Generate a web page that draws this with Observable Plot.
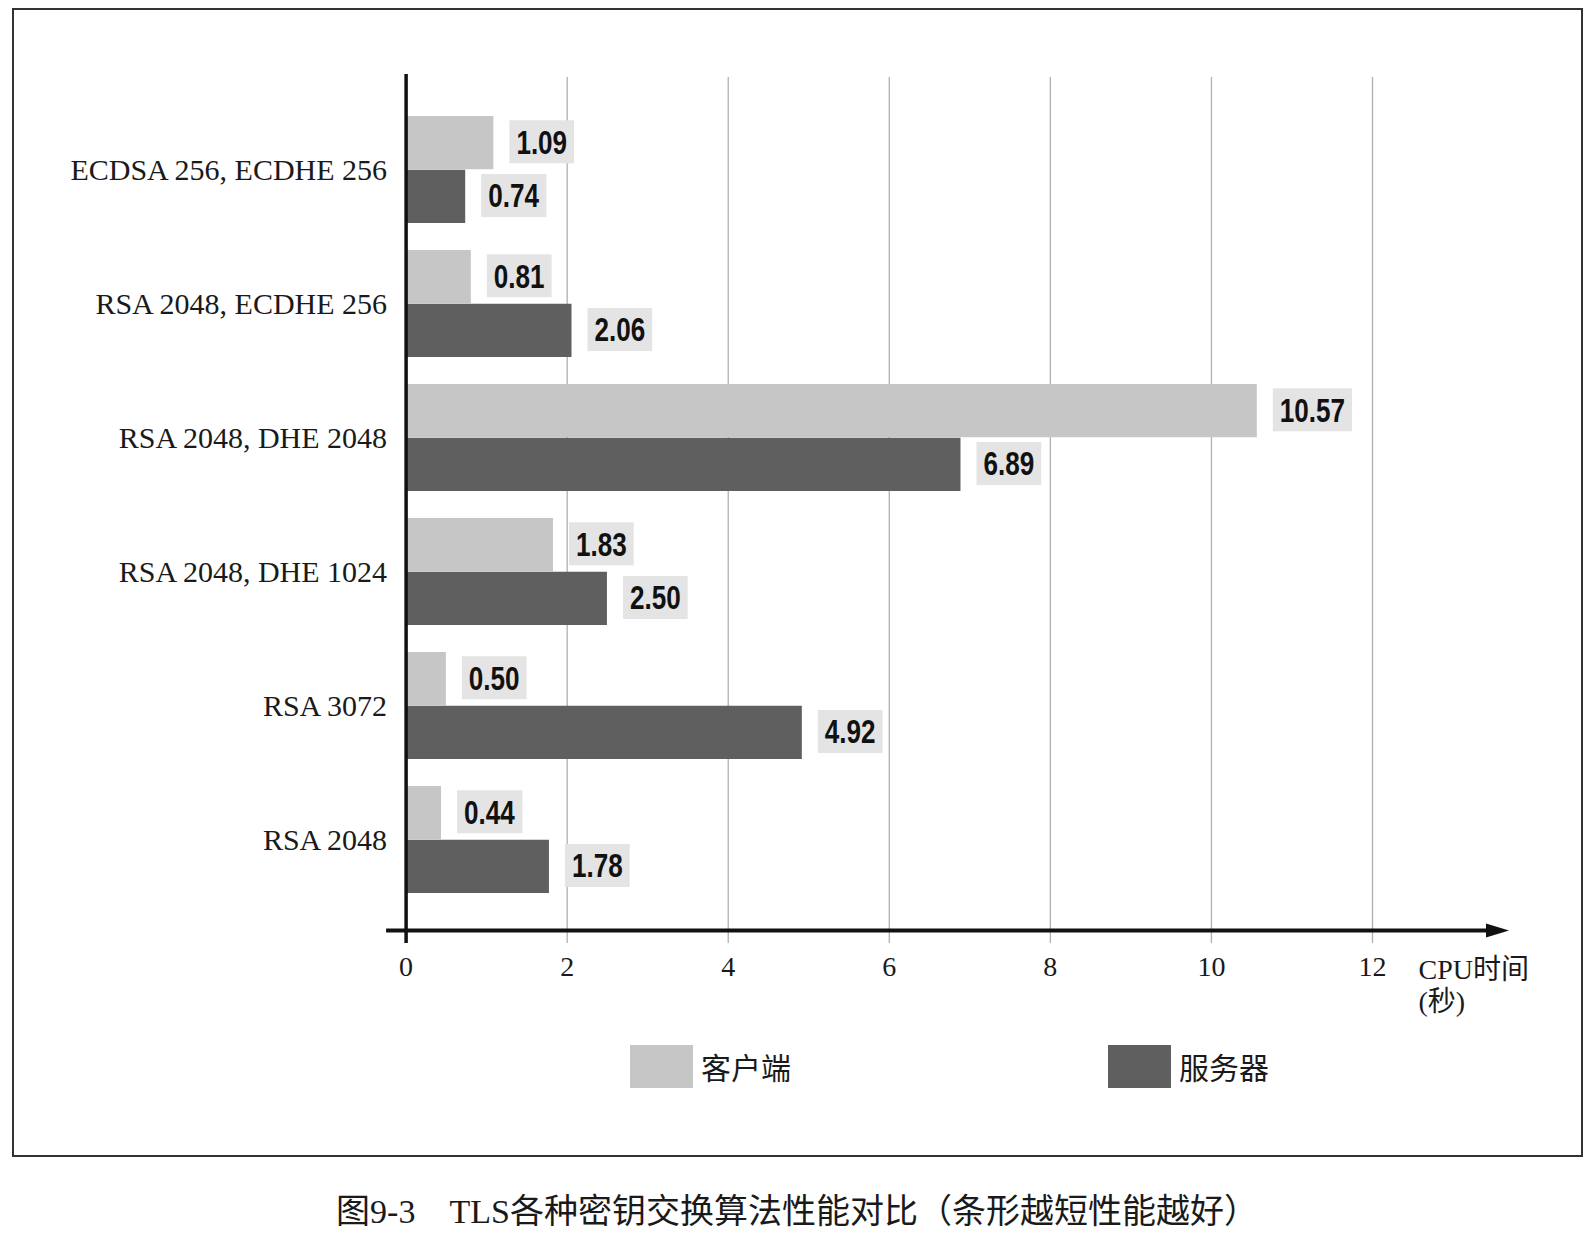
<!DOCTYPE html>
<html>
<head>
<meta charset="utf-8">
<script src="https://cdn.jsdelivr.net/npm/d3@7"></script>
<script src="https://cdn.jsdelivr.net/npm/@observablehq/plot@0.6"></script>
<style>
  html, body { margin: 0; padding: 0; background: #fff; }
  body { width: 1594px; height: 1246px; position: relative; overflow: hidden; }
  #frame { position: absolute; left: 12px; top: 8px; width: 1567px; height: 1145px; border: 2px solid #333; }
  #chart { position: absolute; left: 0; top: 0; }
  .legend-item { position: absolute; display: flex; align-items: center; height: 43px; top: 1045px; }
  .swatch { width: 63px; height: 43px; }
  .legend-label { margin-left: 8px; font-family: "Noto Sans CJK SC", sans-serif; font-size: 30px; color: #1a1a1a; line-height: 43px; }
  #caption { position: absolute; left: 0; width: 1594px; top: 1190px; text-align: center;
             font-family: "Liberation Serif", "Noto Sans CJK SC", serif; font-size: 34px; color: #1a1a1a; line-height: 44px; }
</style>
</head>
<body>
<div id="frame"></div>
<div id="chart"></div>
<div id="legend"></div>
<div id="caption"></div>
<script>
// ---- data ----
const categories = ["ECDSA 256, ECDHE 256", "RSA 2048, ECDHE 256", "RSA 2048, DHE 2048", "RSA 2048, DHE 1024", "RSA 3072", "RSA 2048"];
const clientTimes = [1.09, 0.81, 10.57, 1.83, 0.50, 0.44];
const serverTimes = [0.74, 2.06, 6.89, 2.50, 4.92, 1.78];
const seriesNames = ["客户端", "服务器"];
const seriesColors = ["#c6c6c6", "#5f5f5f"];
const xTicks = [0, 2, 4, 6, 8, 10, 12];
const axisLabel = "CPU时间\n(秒)";
const captionText = "图9-3\u3000TLS各种密钥交换算法性能对比（条形越短性能越好）";

const rows = categories.map((cat, i) => ({cat, client: clientTimes[i], server: serverTimes[i]}));

const halfBand = 53.75;
const arrowHead = {
  draw(ctx) { ctx.moveTo(-23, -7); ctx.lineTo(0, 0); ctx.lineTo(-23, 7); ctx.closePath(); }
};
const labelFont = "Liberation Sans, Arimo, Arial, sans-serif";

const svg = Plot.plot({
  width: 1594,
  height: 1000,
  marginLeft: 405.6,
  marginRight: 222,
  marginTop: 74,
  marginBottom: 70,
  style: {fontFamily: "'Liberation Serif', 'Noto Sans CJK SC', serif", color: "#1a1a1a", background: "transparent", overflow: "visible"},
  x: {domain: [xTicks[0], xTicks[xTicks.length - 1]], label: null},
  y: {domain: categories, paddingInner: 0.2, paddingOuter: 0.1, insetTop: 27.5, insetBottom: 22, label: null},
  marks: [
    Plot.ruleX(xTicks.filter(d => d > 0), {stroke: "#b0b0b0", strokeWidth: 1.3, insetTop: 3, insetBottom: -13}),
    Plot.barX(rows, {x: "client", y: "cat", fill: seriesColors[0], insetBottom: halfBand}),
    Plot.barX(rows, {x: "server", y: "cat", fill: seriesColors[1], insetTop: halfBand}),
    Plot.text(rows, {x: "client", y: "cat", text: d => d.client.toFixed(2), dx: 22.5, dy: -halfBand / 2,
      textAnchor: "start", fontFamily: labelFont, fontWeight: "bold", fontSize: 33, fill: "#111"}),
    Plot.text(rows, {x: "server", y: "cat", text: d => d.server.toFixed(2), dx: 22.5, dy: halfBand / 2,
      textAnchor: "start", fontFamily: labelFont, fontWeight: "bold", fontSize: 33, fill: "#111"}),
    Plot.ruleX([xTicks[0]], {stroke: "#111", strokeWidth: 3.5, insetBottom: -13}),
    Plot.frame({anchor: "bottom", stroke: "#111", strokeWidth: 4, insetLeft: -18, insetRight: -118}),
    Plot.dot([xTicks[xTicks.length - 1]], {x: d => d, frameAnchor: "bottom", symbol: arrowHead, r: 5, fill: "#111", stroke: "none", dx: 136.5}),
    Plot.axisX({ticks: xTicks, tickSize: 0, tickPadding: 25.6, fontSize: 28, tickFormat: d => String(d)}),
    Plot.axisY({tickSize: 0, tickPadding: 19, fontSize: 30}),
    Plot.text([axisLabel], {frameAnchor: "bottom-right", text: d => d, textAnchor: "start", lineAnchor: "top",
      dx: 46, dy: 25.6, fontSize: 28, lineHeight: 1.14})
  ]
});

document.getElementById("chart").append(svg);

// condensed look + light grey boxes behind the value labels, sized from the rendered text
const condense = 0.79;
const labelTexts = [...svg.querySelectorAll("g")]
  .filter(g => g.getAttribute("font-family") === labelFont)
  .flatMap(g => [...g.querySelectorAll("text")]);
labelTexts.forEach(t => {
  const natural = t.getComputedTextLength();
  const w = natural * condense;
  t.setAttribute("textLength", w);
  t.setAttribute("lengthAdjust", "spacingAndGlyphs");
  const b = t.getBBox();
  const cy = b.y + b.height / 2 - 0.4;
  const r = document.createElementNS("http://www.w3.org/2000/svg", "rect");
  const tr = t.getAttribute("transform");
  if (tr) r.setAttribute("transform", tr);
  r.setAttribute("x", b.x - 7);
  r.setAttribute("width", b.width + 14);
  r.setAttribute("y", cy - 21.5);
  r.setAttribute("height", 43);
  r.setAttribute("fill", "#e4e4e4");
  t.parentNode.insertBefore(r, t);
});

// legend
const legendX = [630, 1108];
const legend = document.getElementById("legend");
seriesNames.forEach((name, i) => {
  const item = document.createElement("div");
  item.className = "legend-item";
  item.style.left = legendX[i] + "px";
  const sw = document.createElement("div");
  sw.className = "swatch";
  sw.style.background = seriesColors[i];
  const lb = document.createElement("span");
  lb.className = "legend-label";
  lb.textContent = name;
  item.append(sw, lb);
  legend.append(item);
});

document.getElementById("caption").textContent = captionText;
</script>
</body>
</html>
